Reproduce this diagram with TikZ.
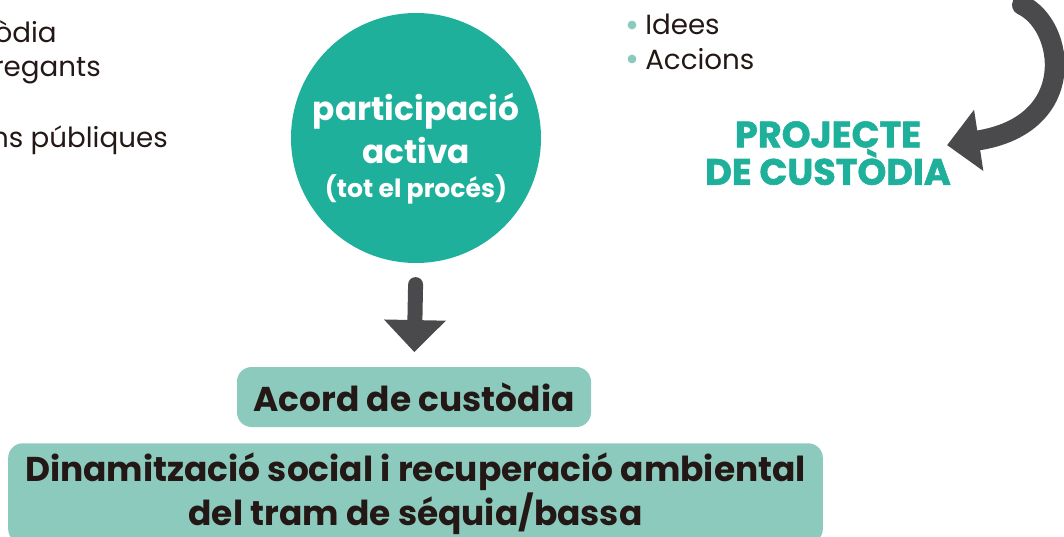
\documentclass[tikz,border=0pt]{standalone}
\usepackage{fontspec}
\setmainfont{Poppins}
\newfontfamily\heavyfont{Poppins}[BoldFeatures={FakeBold=1.6}]
\usetikzlibrary{positioning,arrows.meta}
\definecolor{tealc}{HTML}{1FB09B}
\definecolor{mint}{HTML}{8BCABD}
\definecolor{arrowgrey}{HTML}{4A4A4C}
\definecolor{ink}{HTML}{231815}

\begin{document}
\begin{tikzpicture}[x=0.75pt,y=-0.75pt,
  plain/.style={font=\fontsize{20.8}{26}\selectfont,text=ink,inner sep=0pt},
  intext/.style={font=\bfseries\fontsize{24.6}{26}\selectfont,text=white,inner sep=0pt,anchor=base},
  box/.style={fill=mint,rounded corners=11pt,text=ink,font=\bfseries\fontsize{25.8}{33}\selectfont,align=center},
  bigarrow/.style={draw=arrowgrey,line cap=round,-{Triangle[length=24pt,width=45pt]}}]
\useasboundingbox (0,0) rectangle (1064,536);
\clip (0,0) rectangle (1064,536);
% left list, cut at the edge
\node[plain,anchor=base east] (l1) at (57,42) {òdia};
\node[plain,anchor=base east] (l2) at (101,76) {regants};
\node[plain,anchor=base east] (l3) at (168,147) {ns públiques};
% right list
\fill[mint] (632,25) circle (3.3pt);
\fill[mint] (632,59) circle (3.3pt);
\node[plain,anchor=base west] (r1) at (645,34) {Idees};
\node[plain,anchor=base west] (r2) at (645,69) {Accions};
% central circle
\node[circle,fill=tealc,minimum size=187.5pt,inner sep=0pt] (circ) at (416,138) {};
\node[intext] (c1) at (416,120) {participació};
\node[intext] (c2) at (416,163) {activa};
\node[intext,font=\bfseries\fontsize{18.8}{20}\selectfont] (c3) at (416,197) {(tot el procés)};
% project label
\node[font=\heavyfont\bfseries\fontsize{27.5}{26}\selectfont,text=tealc,align=center,inner sep=0pt,anchor=north] (proj) at (828,121) {PROJECTE\\DE CUSTÒDIA};
% boxes
\node[box,minimum width=265.5pt,minimum height=45pt] (acord) at (414,397) {Acord de custòdia};
\node[box,minimum width=611pt,inner ysep=6.9pt,anchor=north] (dinam) at (415.5,443) {Dinamització social i recuperació ambiental\\del tram de séquia/bassa};
% arrows
\draw[bigarrow,line width=11.25pt,shorten <=16pt,shorten >=11pt] (circ.south) -- (acord.north);
\coordinate (cstart) at (1022,5);
\draw[bigarrow,line width=15pt] (cstart) .. controls (1065,25) and (1080,125) .. ([shift={(-4,-8)}]proj.east);
\end{tikzpicture}
\end{document}
